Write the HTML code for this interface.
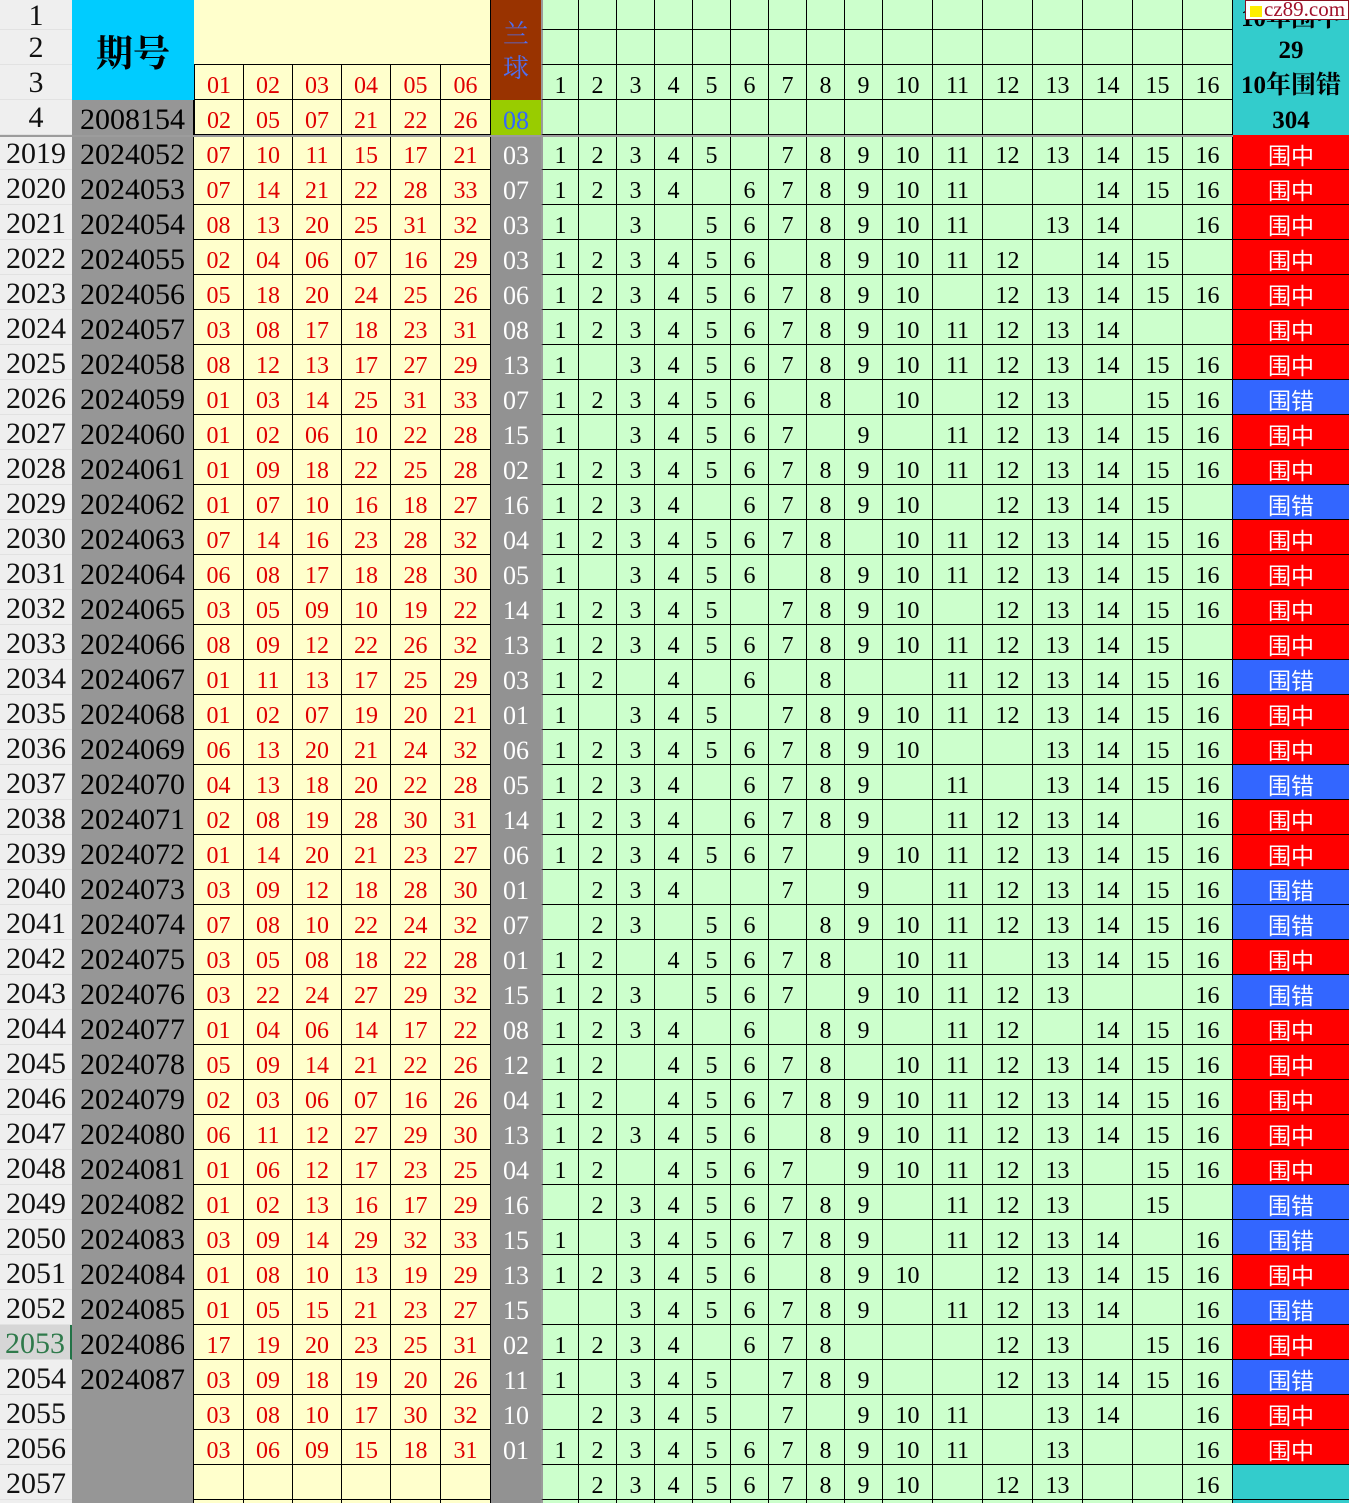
<!DOCTYPE html>
<html><head><meta charset="utf-8">
<style>
*{margin:0;padding:0;box-sizing:border-box}
html,body{width:1349px;height:1503px;overflow:hidden;background:#fff}
body{position:relative;font-family:"Liberation Serif","Noto Serif CJK SC",serif;color:#000}
.a{position:absolute;display:flex;align-items:center;justify-content:center;line-height:1}
.rh{background:#efefef;font-size:30px;color:#111;border-bottom:1px solid #e2e2e2;width:72px;left:0;padding-top:2px}
.r{display:grid;grid-template-columns:72px 122px 50px 49px 49px 49px 50px 50px 50px repeat(9,38px) repeat(7,50px) 116px;height:35px}
.r>*,.g>*{display:flex;align-items:center;justify-content:center;height:35px;font-style:normal;text-decoration:none;font-weight:normal;border-right:1px solid #000;border-bottom:1px solid #000;line-height:1;padding-top:4px}
.r>b{background:#efefef;border:none;border-bottom:1px solid #e2e2e2;font-size:30px;color:#111;padding-top:3px}
.r>b.sel{background:#d6d6d6;color:#2f7a4b;border-right:2px solid #217346}
.r>i{background:#969696;font-size:30px;color:#000;border-bottom:none}
.r>s,.g>s{background:#ffffcc;color:#e00000;font-size:24px;padding-top:8px}
.r>u{background:#929292;color:#fff;font-size:26px;border-bottom:none;border-right:none;padding-top:7px}
.r>u+em{border-left:2px solid #9a9a9a}
.r>em,.g>em{background:#ccffcc;color:#000;font-size:24px;padding-top:8px}
.r>var{font-size:23px;color:#fff;border-right:none;font-style:normal;font-family:"Noto Sans CJK SC",sans-serif;padding-top:5px}
.z{background:#ff0000}.c{background:#3366ff}.t{background:#33cccc}
.g{position:absolute;display:grid}
.g16{left:541px;top:0;grid-template-columns:repeat(9,38px) repeat(7,50px);grid-template-rows:30px 35px 35px 35px}
.g16>em{height:auto}
.g16>em:nth-child(16n+1){border-left:2px solid #9a9a9a}
.gr{left:194px;top:65px;grid-template-columns:50px 49px 49px 49px 50px 50px;grid-template-rows:35px 35px}
.gr>s:nth-child(6n+1){border-left:1px solid #000}
.th{font-size:25px;font-weight:bold;width:116px;left:1233px;font-family:"Liberation Serif","Noto Serif CJK SC",serif}
</style></head><body>

<!-- header row labels -->
<div class="a rh" style="top:0;height:30px">1</div>
<div class="a rh" style="top:30px;height:35px">2</div>
<div class="a rh" style="top:65px;height:35px">3</div>
<div class="a rh" style="top:100px;height:35px">4</div>

<!-- 期号 header -->
<div class="a" style="left:72px;top:0;width:122px;height:100px;background:#00ccff;font-size:37px;font-weight:bold;font-family:'Noto Serif CJK SC','Noto Sans CJK SC',serif">期号</div>
<div class="a" style="left:72px;top:100px;width:122px;height:35px;background:#969696;font-size:30px;border-right:1px solid #000;padding-top:4px">2008154</div>

<!-- yellow header -->
<div class="a" style="left:194px;top:0;width:297px;height:65px;background:#ffffcc;border-bottom:1px solid #000;border-right:1px solid #000"></div>
<div class="g gr">
<s>01</s><s>02</s><s>03</s><s>04</s><s>05</s><s>06</s>
<s>02</s><s>05</s><s>07</s><s>21</s><s>22</s><s>26</s>
</div>

<!-- 兰球 header -->
<div class="a" style="left:491px;top:0;width:50px;height:100px;background:#993300;flex-direction:column;color:#4f6ff0;font-size:26px;font-family:'Noto Serif CJK SC',serif"><span style="display:block;height:34px;line-height:34px">兰</span><span style="display:block;height:34px;line-height:34px">球</span></div>
<div class="a" style="left:491px;top:100px;width:50px;height:35px;background:#99cc00;color:#3366ff;font-size:26px;padding-top:6px">08</div>

<!-- 16 col header -->
<div class="g g16">
<em></em><em></em><em></em><em></em><em></em><em></em><em></em><em></em><em></em><em></em><em></em><em></em><em></em><em></em><em></em><em></em>
<em></em><em></em><em></em><em></em><em></em><em></em><em></em><em></em><em></em><em></em><em></em><em></em><em></em><em></em><em></em><em></em>
<em>1</em><em>2</em><em>3</em><em>4</em><em>5</em><em>6</em><em>7</em><em>8</em><em>9</em><em>10</em><em>11</em><em>12</em><em>13</em><em>14</em><em>15</em><em>16</em>
<em></em><em></em><em></em><em></em><em></em><em></em><em></em><em></em><em></em><em></em><em></em><em></em><em></em><em></em><em></em><em></em>
</div>

<!-- teal header -->
<div class="a" style="left:1233px;top:0;width:116px;height:135px;background:#33cccc"></div>
<div class="a th" style="top:3px;height:30px">10年围中</div>
<div class="a th" style="top:33px;height:35px">29</div>
<div class="a th" style="top:68px;height:35px">10年围错</div>
<div class="a th" style="top:103px;height:35px">304</div>

<!-- watermark -->
<div style="position:absolute;left:1245px;top:0;width:104px;height:20px;background:#fff;border:1px solid #8a1020"></div>
<div style="position:absolute;left:1250px;top:6px;width:12px;height:11px;background:#ffee00"></div>
<div style="position:absolute;left:1264px;top:0;height:20px;line-height:19px;font-size:21px;color:#a0102a;font-family:'Liberation Serif',serif">cz89.com</div>

<!-- data -->
<div style="position:absolute;left:0;top:135px;width:1349px">
<div class="r"><b>2019</b><i>2024052</i><s>07</s><s>10</s><s>11</s><s>15</s><s>17</s><s>21</s><u>03</u><em>1</em><em>2</em><em>3</em><em>4</em><em>5</em><em></em><em>7</em><em>8</em><em>9</em><em>10</em><em>11</em><em>12</em><em>13</em><em>14</em><em>15</em><em>16</em><var class="z">围中</var></div>
<div class="r"><b>2020</b><i>2024053</i><s>07</s><s>14</s><s>21</s><s>22</s><s>28</s><s>33</s><u>07</u><em>1</em><em>2</em><em>3</em><em>4</em><em></em><em>6</em><em>7</em><em>8</em><em>9</em><em>10</em><em>11</em><em></em><em></em><em>14</em><em>15</em><em>16</em><var class="z">围中</var></div>
<div class="r"><b>2021</b><i>2024054</i><s>08</s><s>13</s><s>20</s><s>25</s><s>31</s><s>32</s><u>03</u><em>1</em><em></em><em>3</em><em></em><em>5</em><em>6</em><em>7</em><em>8</em><em>9</em><em>10</em><em>11</em><em></em><em>13</em><em>14</em><em></em><em>16</em><var class="z">围中</var></div>
<div class="r"><b>2022</b><i>2024055</i><s>02</s><s>04</s><s>06</s><s>07</s><s>16</s><s>29</s><u>03</u><em>1</em><em>2</em><em>3</em><em>4</em><em>5</em><em>6</em><em></em><em>8</em><em>9</em><em>10</em><em>11</em><em>12</em><em></em><em>14</em><em>15</em><em></em><var class="z">围中</var></div>
<div class="r"><b>2023</b><i>2024056</i><s>05</s><s>18</s><s>20</s><s>24</s><s>25</s><s>26</s><u>06</u><em>1</em><em>2</em><em>3</em><em>4</em><em>5</em><em>6</em><em>7</em><em>8</em><em>9</em><em>10</em><em></em><em>12</em><em>13</em><em>14</em><em>15</em><em>16</em><var class="z">围中</var></div>
<div class="r"><b>2024</b><i>2024057</i><s>03</s><s>08</s><s>17</s><s>18</s><s>23</s><s>31</s><u>08</u><em>1</em><em>2</em><em>3</em><em>4</em><em>5</em><em>6</em><em>7</em><em>8</em><em>9</em><em>10</em><em>11</em><em>12</em><em>13</em><em>14</em><em></em><em></em><var class="z">围中</var></div>
<div class="r"><b>2025</b><i>2024058</i><s>08</s><s>12</s><s>13</s><s>17</s><s>27</s><s>29</s><u>13</u><em>1</em><em></em><em>3</em><em>4</em><em>5</em><em>6</em><em>7</em><em>8</em><em>9</em><em>10</em><em>11</em><em>12</em><em>13</em><em>14</em><em>15</em><em>16</em><var class="z">围中</var></div>
<div class="r"><b>2026</b><i>2024059</i><s>01</s><s>03</s><s>14</s><s>25</s><s>31</s><s>33</s><u>07</u><em>1</em><em>2</em><em>3</em><em>4</em><em>5</em><em>6</em><em></em><em>8</em><em></em><em>10</em><em></em><em>12</em><em>13</em><em></em><em>15</em><em>16</em><var class="c">围错</var></div>
<div class="r"><b>2027</b><i>2024060</i><s>01</s><s>02</s><s>06</s><s>10</s><s>22</s><s>28</s><u>15</u><em>1</em><em></em><em>3</em><em>4</em><em>5</em><em>6</em><em>7</em><em></em><em>9</em><em></em><em>11</em><em>12</em><em>13</em><em>14</em><em>15</em><em>16</em><var class="z">围中</var></div>
<div class="r"><b>2028</b><i>2024061</i><s>01</s><s>09</s><s>18</s><s>22</s><s>25</s><s>28</s><u>02</u><em>1</em><em>2</em><em>3</em><em>4</em><em>5</em><em>6</em><em>7</em><em>8</em><em>9</em><em>10</em><em>11</em><em>12</em><em>13</em><em>14</em><em>15</em><em>16</em><var class="z">围中</var></div>
<div class="r"><b>2029</b><i>2024062</i><s>01</s><s>07</s><s>10</s><s>16</s><s>18</s><s>27</s><u>16</u><em>1</em><em>2</em><em>3</em><em>4</em><em></em><em>6</em><em>7</em><em>8</em><em>9</em><em>10</em><em></em><em>12</em><em>13</em><em>14</em><em>15</em><em></em><var class="c">围错</var></div>
<div class="r"><b>2030</b><i>2024063</i><s>07</s><s>14</s><s>16</s><s>23</s><s>28</s><s>32</s><u>04</u><em>1</em><em>2</em><em>3</em><em>4</em><em>5</em><em>6</em><em>7</em><em>8</em><em></em><em>10</em><em>11</em><em>12</em><em>13</em><em>14</em><em>15</em><em>16</em><var class="z">围中</var></div>
<div class="r"><b>2031</b><i>2024064</i><s>06</s><s>08</s><s>17</s><s>18</s><s>28</s><s>30</s><u>05</u><em>1</em><em></em><em>3</em><em>4</em><em>5</em><em>6</em><em></em><em>8</em><em>9</em><em>10</em><em>11</em><em>12</em><em>13</em><em>14</em><em>15</em><em>16</em><var class="z">围中</var></div>
<div class="r"><b>2032</b><i>2024065</i><s>03</s><s>05</s><s>09</s><s>10</s><s>19</s><s>22</s><u>14</u><em>1</em><em>2</em><em>3</em><em>4</em><em>5</em><em></em><em>7</em><em>8</em><em>9</em><em>10</em><em></em><em>12</em><em>13</em><em>14</em><em>15</em><em>16</em><var class="z">围中</var></div>
<div class="r"><b>2033</b><i>2024066</i><s>08</s><s>09</s><s>12</s><s>22</s><s>26</s><s>32</s><u>13</u><em>1</em><em>2</em><em>3</em><em>4</em><em>5</em><em>6</em><em>7</em><em>8</em><em>9</em><em>10</em><em>11</em><em>12</em><em>13</em><em>14</em><em>15</em><em></em><var class="z">围中</var></div>
<div class="r"><b>2034</b><i>2024067</i><s>01</s><s>11</s><s>13</s><s>17</s><s>25</s><s>29</s><u>03</u><em>1</em><em>2</em><em></em><em>4</em><em></em><em>6</em><em></em><em>8</em><em></em><em></em><em>11</em><em>12</em><em>13</em><em>14</em><em>15</em><em>16</em><var class="c">围错</var></div>
<div class="r"><b>2035</b><i>2024068</i><s>01</s><s>02</s><s>07</s><s>19</s><s>20</s><s>21</s><u>01</u><em>1</em><em></em><em>3</em><em>4</em><em>5</em><em></em><em>7</em><em>8</em><em>9</em><em>10</em><em>11</em><em>12</em><em>13</em><em>14</em><em>15</em><em>16</em><var class="z">围中</var></div>
<div class="r"><b>2036</b><i>2024069</i><s>06</s><s>13</s><s>20</s><s>21</s><s>24</s><s>32</s><u>06</u><em>1</em><em>2</em><em>3</em><em>4</em><em>5</em><em>6</em><em>7</em><em>8</em><em>9</em><em>10</em><em></em><em></em><em>13</em><em>14</em><em>15</em><em>16</em><var class="z">围中</var></div>
<div class="r"><b>2037</b><i>2024070</i><s>04</s><s>13</s><s>18</s><s>20</s><s>22</s><s>28</s><u>05</u><em>1</em><em>2</em><em>3</em><em>4</em><em></em><em>6</em><em>7</em><em>8</em><em>9</em><em></em><em>11</em><em></em><em>13</em><em>14</em><em>15</em><em>16</em><var class="c">围错</var></div>
<div class="r"><b>2038</b><i>2024071</i><s>02</s><s>08</s><s>19</s><s>28</s><s>30</s><s>31</s><u>14</u><em>1</em><em>2</em><em>3</em><em>4</em><em></em><em>6</em><em>7</em><em>8</em><em>9</em><em></em><em>11</em><em>12</em><em>13</em><em>14</em><em></em><em>16</em><var class="z">围中</var></div>
<div class="r"><b>2039</b><i>2024072</i><s>01</s><s>14</s><s>20</s><s>21</s><s>23</s><s>27</s><u>06</u><em>1</em><em>2</em><em>3</em><em>4</em><em>5</em><em>6</em><em>7</em><em></em><em>9</em><em>10</em><em>11</em><em>12</em><em>13</em><em>14</em><em>15</em><em>16</em><var class="z">围中</var></div>
<div class="r"><b>2040</b><i>2024073</i><s>03</s><s>09</s><s>12</s><s>18</s><s>28</s><s>30</s><u>01</u><em></em><em>2</em><em>3</em><em>4</em><em></em><em></em><em>7</em><em></em><em>9</em><em></em><em>11</em><em>12</em><em>13</em><em>14</em><em>15</em><em>16</em><var class="c">围错</var></div>
<div class="r"><b>2041</b><i>2024074</i><s>07</s><s>08</s><s>10</s><s>22</s><s>24</s><s>32</s><u>07</u><em></em><em>2</em><em>3</em><em></em><em>5</em><em>6</em><em></em><em>8</em><em>9</em><em>10</em><em>11</em><em>12</em><em>13</em><em>14</em><em>15</em><em>16</em><var class="c">围错</var></div>
<div class="r"><b>2042</b><i>2024075</i><s>03</s><s>05</s><s>08</s><s>18</s><s>22</s><s>28</s><u>01</u><em>1</em><em>2</em><em></em><em>4</em><em>5</em><em>6</em><em>7</em><em>8</em><em></em><em>10</em><em>11</em><em></em><em>13</em><em>14</em><em>15</em><em>16</em><var class="z">围中</var></div>
<div class="r"><b>2043</b><i>2024076</i><s>03</s><s>22</s><s>24</s><s>27</s><s>29</s><s>32</s><u>15</u><em>1</em><em>2</em><em>3</em><em></em><em>5</em><em>6</em><em>7</em><em></em><em>9</em><em>10</em><em>11</em><em>12</em><em>13</em><em></em><em></em><em>16</em><var class="c">围错</var></div>
<div class="r"><b>2044</b><i>2024077</i><s>01</s><s>04</s><s>06</s><s>14</s><s>17</s><s>22</s><u>08</u><em>1</em><em>2</em><em>3</em><em>4</em><em></em><em>6</em><em></em><em>8</em><em>9</em><em></em><em>11</em><em>12</em><em></em><em>14</em><em>15</em><em>16</em><var class="z">围中</var></div>
<div class="r"><b>2045</b><i>2024078</i><s>05</s><s>09</s><s>14</s><s>21</s><s>22</s><s>26</s><u>12</u><em>1</em><em>2</em><em></em><em>4</em><em>5</em><em>6</em><em>7</em><em>8</em><em></em><em>10</em><em>11</em><em>12</em><em>13</em><em>14</em><em>15</em><em>16</em><var class="z">围中</var></div>
<div class="r"><b>2046</b><i>2024079</i><s>02</s><s>03</s><s>06</s><s>07</s><s>16</s><s>26</s><u>04</u><em>1</em><em>2</em><em></em><em>4</em><em>5</em><em>6</em><em>7</em><em>8</em><em>9</em><em>10</em><em>11</em><em>12</em><em>13</em><em>14</em><em>15</em><em>16</em><var class="z">围中</var></div>
<div class="r"><b>2047</b><i>2024080</i><s>06</s><s>11</s><s>12</s><s>27</s><s>29</s><s>30</s><u>13</u><em>1</em><em>2</em><em>3</em><em>4</em><em>5</em><em>6</em><em></em><em>8</em><em>9</em><em>10</em><em>11</em><em>12</em><em>13</em><em>14</em><em>15</em><em>16</em><var class="z">围中</var></div>
<div class="r"><b>2048</b><i>2024081</i><s>01</s><s>06</s><s>12</s><s>17</s><s>23</s><s>25</s><u>04</u><em>1</em><em>2</em><em></em><em>4</em><em>5</em><em>6</em><em>7</em><em></em><em>9</em><em>10</em><em>11</em><em>12</em><em>13</em><em></em><em>15</em><em>16</em><var class="z">围中</var></div>
<div class="r"><b>2049</b><i>2024082</i><s>01</s><s>02</s><s>13</s><s>16</s><s>17</s><s>29</s><u>16</u><em></em><em>2</em><em>3</em><em>4</em><em>5</em><em>6</em><em>7</em><em>8</em><em>9</em><em></em><em>11</em><em>12</em><em>13</em><em></em><em>15</em><em></em><var class="c">围错</var></div>
<div class="r"><b>2050</b><i>2024083</i><s>03</s><s>09</s><s>14</s><s>29</s><s>32</s><s>33</s><u>15</u><em>1</em><em></em><em>3</em><em>4</em><em>5</em><em>6</em><em>7</em><em>8</em><em>9</em><em></em><em>11</em><em>12</em><em>13</em><em>14</em><em></em><em>16</em><var class="c">围错</var></div>
<div class="r"><b>2051</b><i>2024084</i><s>01</s><s>08</s><s>10</s><s>13</s><s>19</s><s>29</s><u>13</u><em>1</em><em>2</em><em>3</em><em>4</em><em>5</em><em>6</em><em></em><em>8</em><em>9</em><em>10</em><em></em><em>12</em><em>13</em><em>14</em><em>15</em><em>16</em><var class="z">围中</var></div>
<div class="r"><b>2052</b><i>2024085</i><s>01</s><s>05</s><s>15</s><s>21</s><s>23</s><s>27</s><u>15</u><em></em><em></em><em>3</em><em>4</em><em>5</em><em>6</em><em>7</em><em>8</em><em>9</em><em></em><em>11</em><em>12</em><em>13</em><em>14</em><em></em><em>16</em><var class="c">围错</var></div>
<div class="r"><b class="sel">2053</b><i>2024086</i><s>17</s><s>19</s><s>20</s><s>23</s><s>25</s><s>31</s><u>02</u><em>1</em><em>2</em><em>3</em><em>4</em><em></em><em>6</em><em>7</em><em>8</em><em></em><em></em><em></em><em>12</em><em>13</em><em></em><em>15</em><em>16</em><var class="z">围中</var></div>
<div class="r"><b>2054</b><i>2024087</i><s>03</s><s>09</s><s>18</s><s>19</s><s>20</s><s>26</s><u>11</u><em>1</em><em></em><em>3</em><em>4</em><em>5</em><em></em><em>7</em><em>8</em><em>9</em><em></em><em></em><em>12</em><em>13</em><em>14</em><em>15</em><em>16</em><var class="c">围错</var></div>
<div class="r"><b>2055</b><i></i><s>03</s><s>08</s><s>10</s><s>17</s><s>30</s><s>32</s><u>10</u><em></em><em>2</em><em>3</em><em>4</em><em>5</em><em></em><em>7</em><em></em><em>9</em><em>10</em><em>11</em><em></em><em>13</em><em>14</em><em></em><em>16</em><var class="z">围中</var></div>
<div class="r"><b>2056</b><i></i><s>03</s><s>06</s><s>09</s><s>15</s><s>18</s><s>31</s><u>01</u><em>1</em><em>2</em><em>3</em><em>4</em><em>5</em><em>6</em><em>7</em><em>8</em><em>9</em><em>10</em><em>11</em><em></em><em>13</em><em></em><em></em><em>16</em><var class="z">围中</var></div>
<div class="r"><b>2057</b><i></i><s></s><s></s><s></s><s></s><s></s><s></s><u></u><em></em><em>2</em><em>3</em><em>4</em><em>5</em><em>6</em><em>7</em><em>8</em><em>9</em><em>10</em><em></em><em>12</em><em>13</em><em></em><em></em><em>16</em><var class="t"></var></div>
<div class="r"><b></b><i></i><s></s><s></s><s></s><s></s><s></s><s></s><u></u><em></em><em></em><em></em><em></em><em></em><em></em><em></em><em></em><em></em><em></em><em></em><em></em><em></em><em></em><em></em><em></em><var class="t"></var></div>
</div>

<!-- separator line under header -->
<div style="position:absolute;left:0;top:135px;width:1233px;height:2px;background:#9c9c9c"></div>
</body></html>
